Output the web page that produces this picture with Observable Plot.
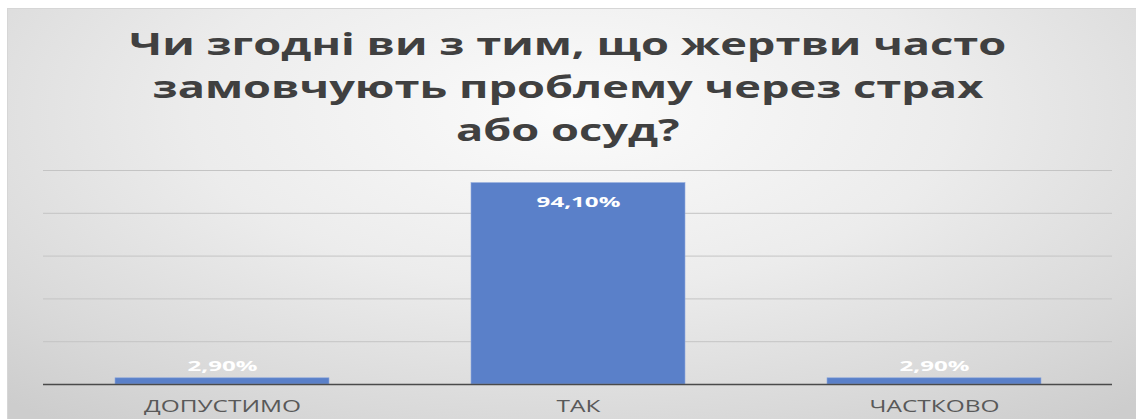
<!DOCTYPE html>
<html>
<head>
<meta charset="utf-8">
<script src="https://cdn.jsdelivr.net/npm/d3@7"></script>
<script src="https://cdn.jsdelivr.net/npm/@observablehq/plot@0.6"></script>
<style>
  html, body { margin: 0; padding: 0; background: #ffffff; }
  #wrap { position: relative; width: 1136px; height: 419px; overflow: hidden; background: #ffffff; font-family: "Open Sans", sans-serif; }
  #box { position: absolute; left: 7px; top: 8px; width: 1129px; height: 411px;
    background: radial-gradient(ellipse 75% 95% at 50% 25%, #fbfbfb 0%, #ececec 45%, #d9d9d9 80%, #cdcdcd 100%);
    border-top: 1px solid #d6d6d6; border-left: 1px solid #d6d6d6; }
  #title { position: absolute; left: 0; top: 22px; width: 1136px; text-align: center;
    font-weight: 700; font-size: 31px; line-height: 43px; color: #404040; }
  #title div { white-space: nowrap; }
  #title span { display: inline-block; transform-origin: 50% 50%; }
  #chart { position: absolute; left: 0; top: 150px; }
</style>
</head>
<body>
<div id="wrap">
  <div id="box"></div>
  <div id="title"></div>
  <div id="chart"></div>
</div>
<script>
const titleLines = ["Чи згодні ви з тим, що жертви часто", "замовчують проблему через страх", "або осуд?"];
const categories = ["ДОПУСТИМО", "ТАК", "ЧАСТКОВО"];
const values = [2.9, 94.1, 2.9];
const valueLabels = ["2,90%", "94,10%", "2,90%"];
const gridTicks = [20, 40, 60, 80, 100];

const data = categories.map((c, i) => ({cat: c, value: values[i], label: valueLabels[i]}));

// title
const titleEl = document.getElementById("title");
titleLines.forEach(t => {
  const d = document.createElement("div");
  const s = document.createElement("span");
  s.textContent = t;
  d.appendChild(s);
  titleEl.appendChild(d);
});
const spans = titleEl.querySelectorAll("span");
const titleScale = 877 / spans[0].getBoundingClientRect().width;
spans.forEach(s => s.style.transform = `scaleX(${titleScale})`);

const barColor = "#5a80c9";

const plot = Plot.plot({
  width: 1136,
  height: 269,
  marginTop: 20,
  marginBottom: 35,
  marginLeft: 43,
  marginRight: 24,
  style: {background: "transparent", fontFamily: "Open Sans, sans-serif", overflow: "visible"},
  x: {domain: categories, paddingInner: 0.4, paddingOuter: 0.2, label: null},
  y: {domain: [0, 100], axis: null},
  marks: [
    Plot.ruleY(gridTicks, {stroke: "#c4c4c4", strokeWidth: 1}),
    Plot.barY(data, {x: "cat", y: "value", fill: barColor, stroke: "#8fa9dc", strokeWidth: 0.6}),
    Plot.ruleY([0], {stroke: "#4a4a4a", strokeWidth: 1.6}),
    Plot.text(data.filter(d => d.value > 50), {x: "cat", y: "value", text: "label", dy: 19, fill: "#ffffff", fontSize: 14, fontWeight: 700, className: "vlab"}),
    Plot.text(data.filter(d => d.value <= 50), {x: "cat", y: "value", text: "label", dy: -12, fill: "#ffffff", fontSize: 14, fontWeight: 700, className: "vlab"}),
    Plot.axisX({tickSize: 0, tickPadding: 16, fontSize: 16, color: "#595959", label: null, className: "xlab"})
  ]
});
document.getElementById("chart").appendChild(plot);

// horizontal stretch of texts to match reference proportions
function stretch(selector, refText, refWidth) {
  const texts = Array.from(plot.querySelectorAll(selector + " text"));
  const ref = texts.find(t => t.textContent === refText);
  if (!ref) return;
  const f = refWidth / ref.getComputedTextLength();
  texts.forEach(t => {
    const w = t.getComputedTextLength();
    t.setAttribute("textLength", w * f);
    t.setAttribute("lengthAdjust", "spacingAndGlyphs");
  });
}
stretch(".xlab", "ДОПУСТИМО", 157);
stretch(".vlab", "2,90%", 70);
</script>
</body>
</html>
